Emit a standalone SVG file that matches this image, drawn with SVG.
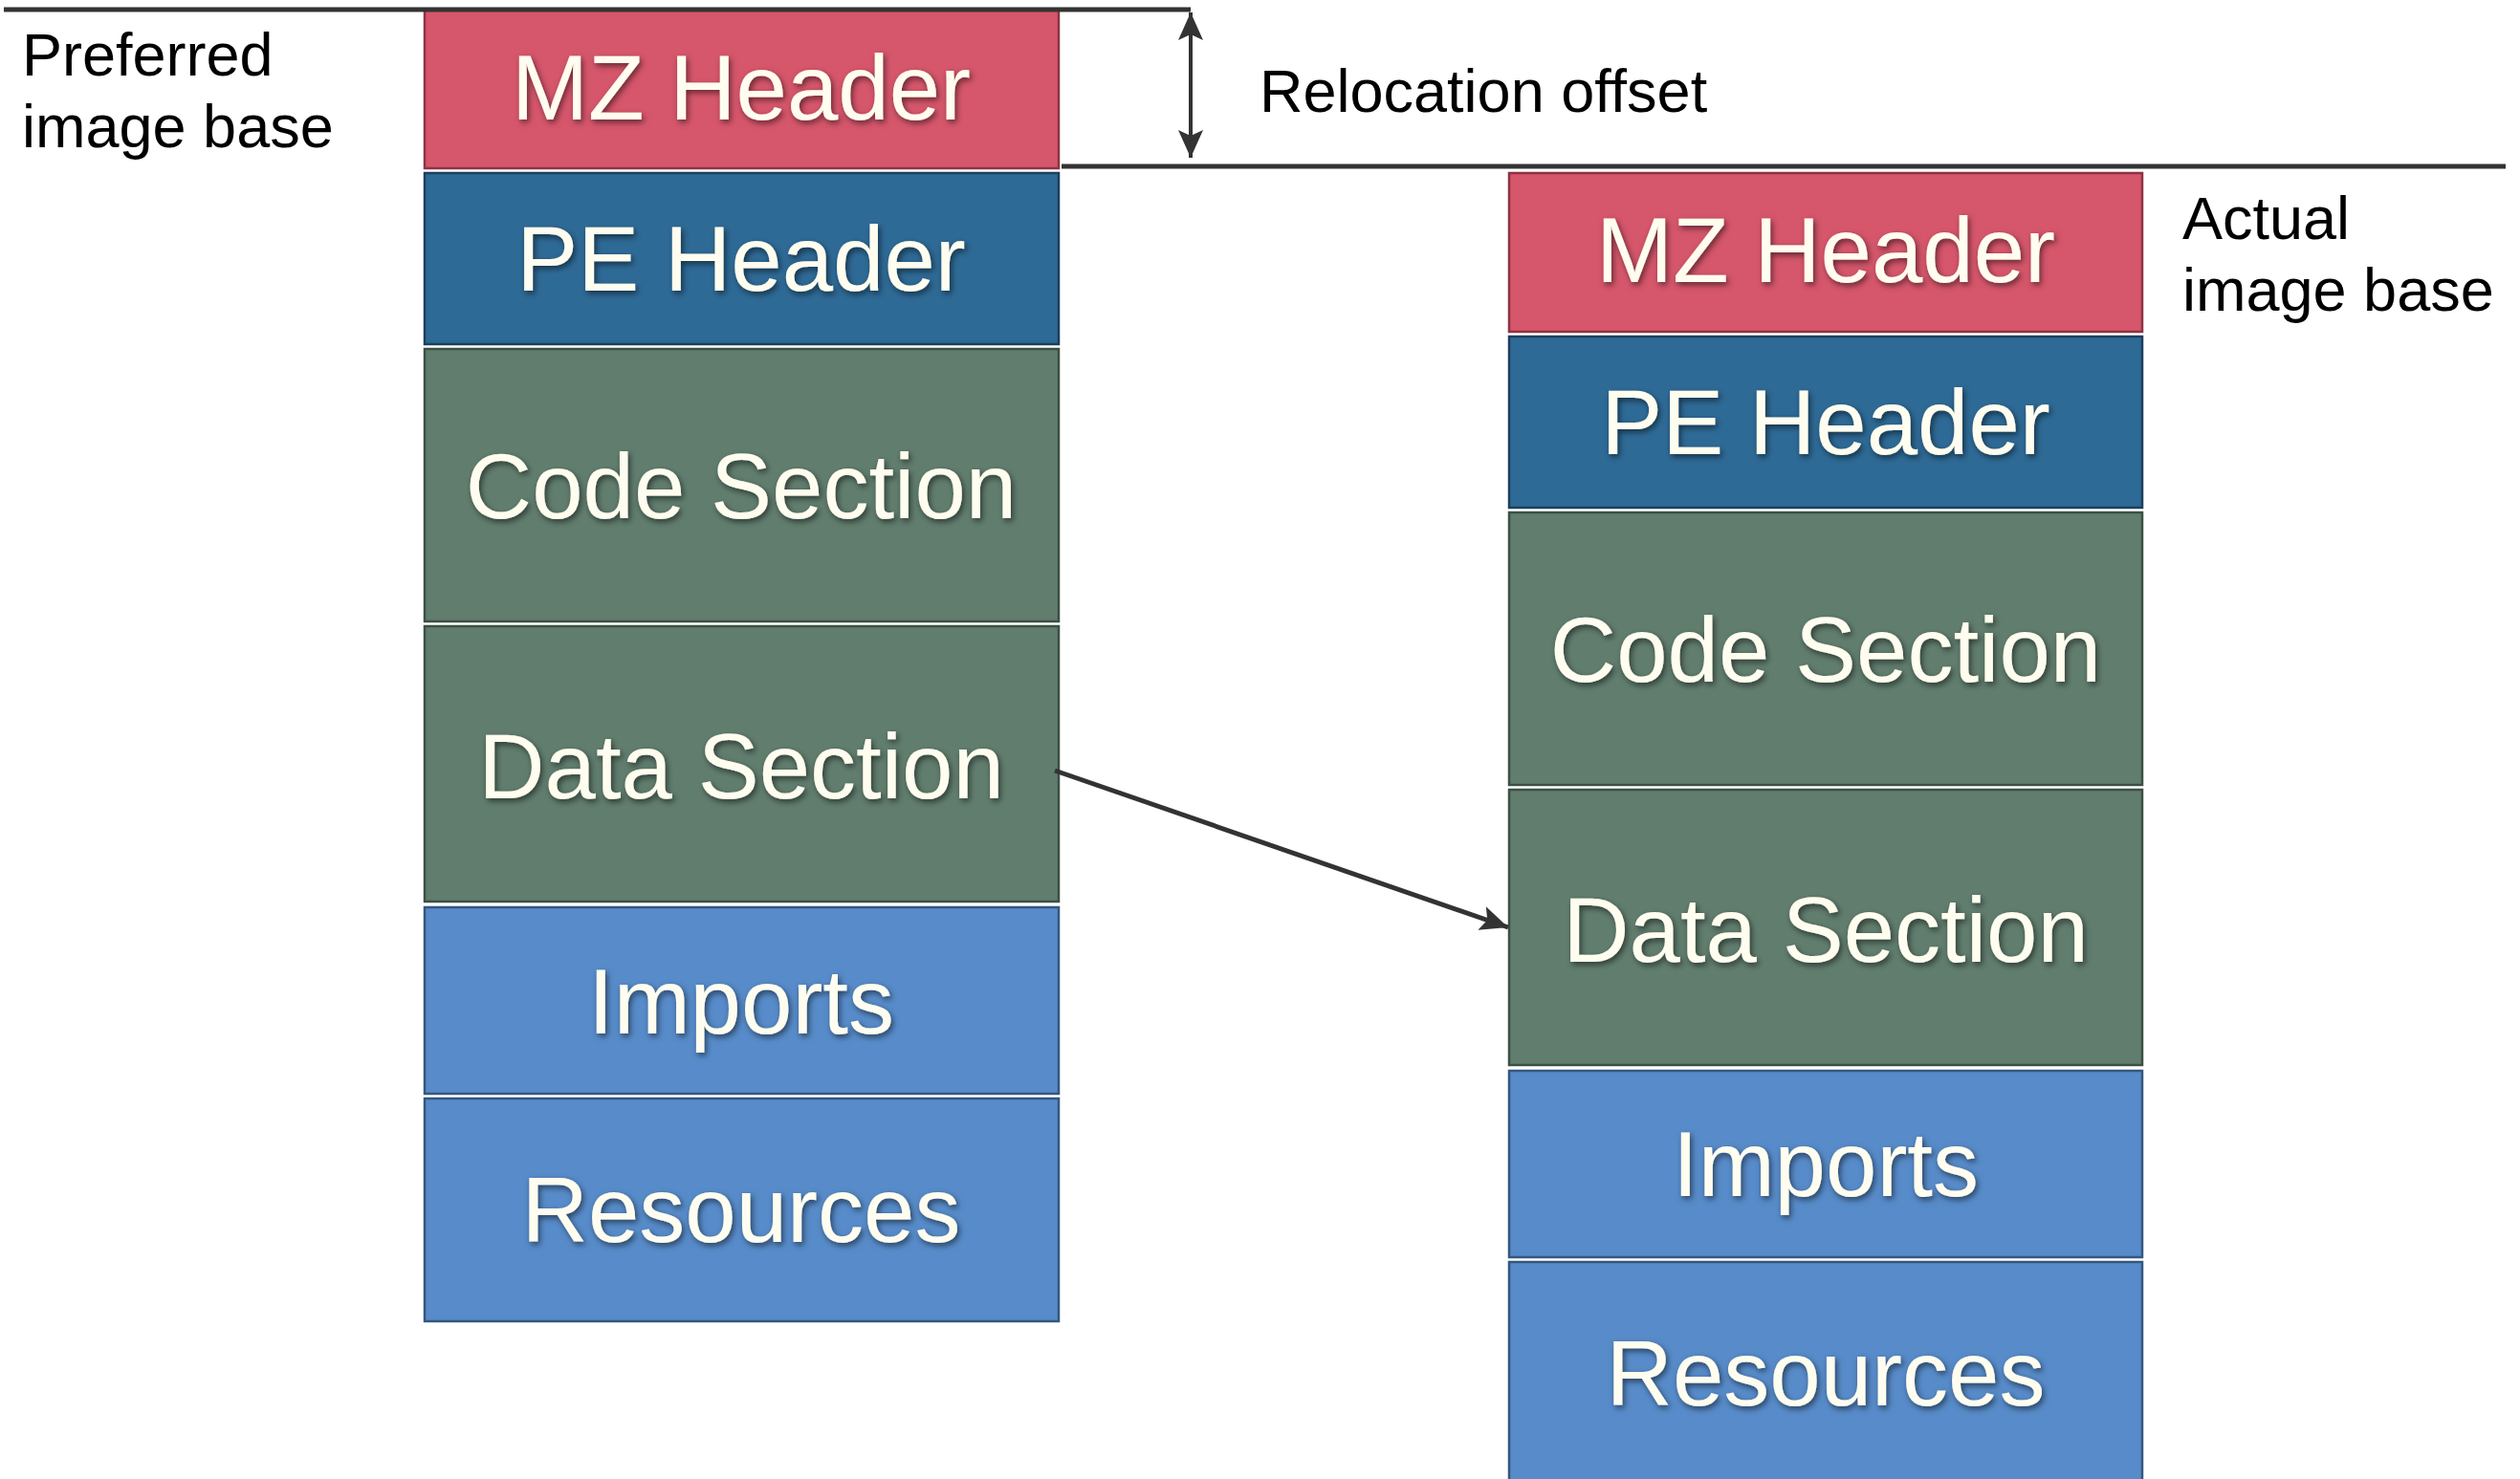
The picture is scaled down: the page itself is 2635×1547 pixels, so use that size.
<svg xmlns="http://www.w3.org/2000/svg" width="2635" height="1547" viewBox="0 0 2635 1547">
  <style>
    .box { stroke-width: 2.5; }
    .mz { fill: #D6566B; stroke: #8E3344; }
    .pe { fill: #2E6A96; stroke: #1C3F5C; }
    .sec { fill: #617D6E; stroke: #3C5045; }
    .lb { fill: #578BC9; stroke: #34577F; }
    .bt { font-family: "Liberation Sans", Arial, sans-serif; font-size: 96px; fill: #FFFDEF; text-anchor: middle; filter: url(#shadow); }
    .lbl { font-family: "Liberation Sans", Arial, sans-serif; font-size: 63px; fill: #000000; }
    .rule { stroke: #333333; stroke-width: 5; fill: none; }
    .conn { stroke: #333333; fill: none; }
  </style>
  <defs>
    <filter id="shadow" x="-10%" y="-30%" width="120%" height="160%">
      <feDropShadow dx="2" dy="3" stdDeviation="3" flood-color="#000000" flood-opacity="0.55"/>
    </filter>
    <marker id="ah" markerUnits="userSpaceOnUse" markerWidth="32" markerHeight="28" refX="29" refY="13" orient="auto-start-reverse">
      <path d="M0,0 L29,13 L0,26 L6,13 z" fill="#333333"/>
    </marker>
  </defs>

  <rect x="0" y="0" width="2635" height="1547" fill="#FFFFFF"/>

  <g id="preferred-image">
    <g id="left-mz"><rect class="box mz" x="444" y="10" width="663" height="166"/><text class="bt" x="775" y="125">MZ Header</text></g>
    <g id="left-pe"><rect class="box pe" x="444" y="181" width="663" height="179"/><text class="bt" x="775" y="304">PE Header</text></g>
    <g id="left-code"><rect class="box sec" x="444" y="365" width="663" height="285"/><text class="bt" x="775" y="542">Code Section</text></g>
    <g id="left-data"><rect class="box sec" x="444" y="655" width="663" height="288"/><text class="bt" x="775" y="835">Data Section</text></g>
    <g id="left-imports"><rect class="box lb" x="444" y="949" width="663" height="195"/><text class="bt" x="775" y="1081">Imports</text></g>
    <g id="left-resources"><rect class="box lb" x="444" y="1149" width="663" height="233"/><text class="bt" x="775" y="1299">Resources</text></g>
  </g>

  <g id="actual-image">
    <g id="right-mz"><rect class="box mz" x="1578" y="181" width="662" height="166"/><text class="bt" x="1909" y="295">MZ Header</text></g>
    <g id="right-pe"><rect class="box pe" x="1578" y="352" width="662" height="179"/><text class="bt" x="1909" y="475">PE Header</text></g>
    <g id="right-code"><rect class="box sec" x="1578" y="536" width="662" height="285"/><text class="bt" x="1909" y="713">Code Section</text></g>
    <g id="right-data"><rect class="box sec" x="1578" y="826" width="662" height="288"/><text class="bt" x="1909" y="1006">Data Section</text></g>
    <g id="right-imports"><rect class="box lb" x="1578" y="1120" width="662" height="195"/><text class="bt" x="1909" y="1251">Imports</text></g>
    <g id="right-resources"><rect class="box lb" x="1578" y="1320" width="662" height="240"/><text class="bt" x="1909" y="1470">Resources</text></g>
  </g>

  <g id="labels">
    <text class="lbl" x="23" y="79">Preferred</text>
    <text class="lbl" x="23" y="154">image base</text>
    <text class="lbl" x="1317" y="117">Relocation offset</text>
    <text class="lbl" x="2282" y="250">Actual</text>
    <text class="lbl" x="2282" y="325">image base</text>
  </g>

  <g id="connectors">
    <line class="rule" x1="4" y1="10" x2="1245" y2="10"/>
    <line class="rule" x1="1110" y1="174" x2="2620" y2="174"/>
    <line class="conn" stroke-width="4" x1="1245" y1="13" x2="1245" y2="165" marker-start="url(#ah)" marker-end="url(#ah)"/>
    <line class="conn" stroke-width="5" x1="1103" y1="806" x2="1577" y2="970" marker-end="url(#ah)"/>
  </g>
</svg>
